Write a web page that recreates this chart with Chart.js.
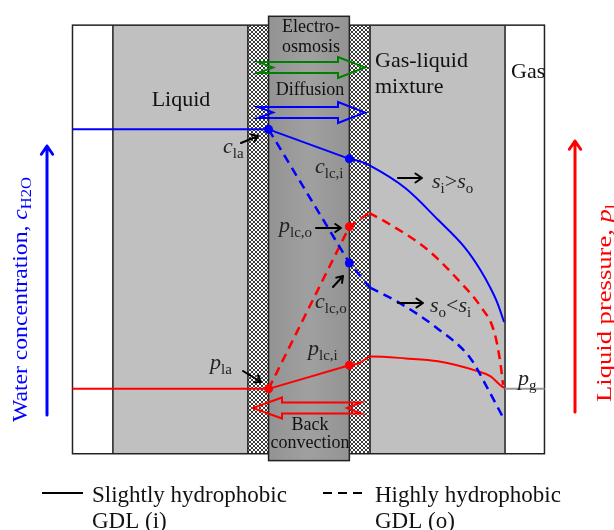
<!DOCTYPE html>
<html>
<head>
<meta charset="utf-8">
<script src="https://cdn.jsdelivr.net/npm/chart.js@4.4.1/dist/chart.umd.min.js"></script>
<style>
  html, body { margin: 0; padding: 0; background: #fff; }
  canvas { display: block; }
</style>
</head>
<body>
<canvas id="diagram" width="614" height="530"></canvas>
<script>
// layer edges across the cell (diagram units): frame, liquid, MPL, membrane, MPL, mixture, gas, frame
const layerEdges = [69, 110, 247, 268, 350, 371, 508, 548];
const frameTopBottom = [21, 457];
const membraneTopBottom = [12, 464];

// water concentration profiles
const cInlet = [[69, 127], [268, 127]];
const cSlightAnode = [[268, 127], [350, 157]];
const cSlightGdl = [[350, 157], [362, 160], [371, 164], [407, 187], [440, 219], [467, 247], [483, 270], [493, 288], [500, 303], [507, 323]];
const cHighAnode = [[268, 127], [350, 263], [371, 288]];
const cHighGdl = [[371, 288], [400, 303], [440, 330], [473, 360], [490, 390], [507, 422]];

// liquid pressure profiles
const pInlet = [[69, 391], [268, 391]];
const pSlightAnode = [[268, 391], [350, 367]];
const pSlightGdl = [[350, 367], [360, 365], [372, 358], [407, 360], [440, 363], [480, 373], [493, 378], [503, 387], [507, 390]];
const pHighAnode = [[268, 391], [350, 226], [370, 212]];
const pHighGdl = [[370, 212], [390, 223], [430, 250], [463, 283], [483, 307], [497, 333], [503, 363], [506, 387]];
const pGas = [[508, 391], [548, 391]];

// marked interface points
const cMarks = [[268, 127], [350, 157], [350, 263]];
const pMarks = [[268, 391], [350, 367], [350, 226]];

const BLUE = '#0000ff';
const RED = '#ff0000';
const SERIF = '"Liberation Serif", "Times New Roman", serif';

function line(pts, color, dashed, curved, width) {
    return {
        data: pts.map(p => ({ x: p[0], y: p[1] })),
        showLine: true,
        borderColor: color,
        borderWidth: width || (dashed ? 2.5 : 2),
        borderDash: dashed ? [9, 6] : [],
        pointRadius: 0,
        tension: 0,
        cubicInterpolationMode: curved ? 'monotone' : 'default',
        fill: false
    };
}

function marks(pts, color) {
    return {
        data: pts.map(p => ({ x: p[0], y: p[1] })),
        showLine: false,
        pointRadius: 4.5,
        pointBackgroundColor: color,
        pointBorderColor: color,
        pointBorderWidth: 0
    };
}

// small hatch tile for the micro-porous layers
function hatchPattern(ctx) {
    const t = document.createElement('canvas');
    t.width = 4; t.height = 4;
    const g = t.getContext('2d');
    g.fillStyle = '#fff';
    g.fillRect(0, 0, 4, 4);
    g.fillStyle = '#3a3a3a';
    for (let i = 0; i < 4; i++) {
        g.fillRect(i, i, 1, 1);
        g.fillRect(3 - i, i, 1, 1);
    }
    return ctx.createPattern(t, 'repeat');
}

function partFonts(parts, size) {
    return parts.map(([txt, kind]) => {
        if (kind === 's') return `${Math.round(size * 0.68)}px ${SERIF}`;
        if (kind === 'i') return `italic ${size}px ${SERIF}`;
        return `${size}px ${SERIF}`;
    });
}

function richWidth(ctx, parts, size) {
    const fonts = partFonts(parts, size);
    let w = 0;
    parts.forEach(([txt], i) => { ctx.font = fonts[i]; w += ctx.measureText(txt).width; });
    return w;
}

// text with italic symbol and subscripts: parts = [text, kind] where kind 'n','i','s'
function rich(ctx, x, y, parts, size, align) {
    const fonts = partFonts(parts, size);
    const w = richWidth(ctx, parts, size);
    let cx = align === 'center' ? x - w / 2 : x;
    ctx.textAlign = 'left';
    ctx.textBaseline = 'alphabetic';
    parts.forEach(([txt, kind], i) => {
        ctx.font = fonts[i];
        ctx.fillText(txt, cx, kind === 's' ? y + size * 0.22 : y);
        cx += ctx.measureText(txt).width;
    });
}

// vertical label reading upwards, stretched to a given length
function sideLabel(ctx, x, y, parts, size, length, color) {
    ctx.save();
    ctx.translate(x, y);
    ctx.rotate(-Math.PI / 2);
    ctx.scale(length / richWidth(ctx, parts, size), 1);
    ctx.fillStyle = color;
    rich(ctx, 0, 0, parts, size, 'left');
    ctx.restore();
}

function openArrow(ctx, x1, y1, x2, y2, color, width, head) {
    const a = Math.atan2(y2 - y1, x2 - x1);
    ctx.save();
    ctx.strokeStyle = color;
    ctx.lineWidth = width;
    ctx.lineCap = 'round';
    ctx.lineJoin = 'round';
    ctx.beginPath();
    ctx.moveTo(x1, y1);
    ctx.lineTo(x2, y2);
    ctx.moveTo(x2 - head * Math.cos(a - 0.6), y2 - head * Math.sin(a - 0.6));
    ctx.lineTo(x2, y2);
    ctx.lineTo(x2 - head * Math.cos(a + 0.6), y2 - head * Math.sin(a + 0.6));
    ctx.stroke();
    ctx.restore();
}

// outlined block arrow with notched tail
function blockArrow(ctx, tail, tip, yc, shaft, head, headLen, notch, color) {
    const d = tip > tail ? 1 : -1;
    const hb = tip - d * headLen;
    ctx.save();
    ctx.strokeStyle = color;
    ctx.lineWidth = 2;
    ctx.lineJoin = 'miter';
    ctx.beginPath();
    ctx.moveTo(tail, yc - shaft);
    ctx.lineTo(hb, yc - shaft);
    ctx.lineTo(hb, yc - head);
    ctx.lineTo(tip, yc);
    ctx.lineTo(hb, yc + head);
    ctx.lineTo(hb, yc + shaft);
    ctx.lineTo(tail, yc + shaft);
    ctx.lineTo(tail + d * notch, yc);
    ctx.closePath();
    ctx.stroke();
    ctx.restore();
}

const backdrop = {
    id: 'backdrop',
    beforeDatasetsDraw(chart) {
        const { ctx, scales: { x, y } } = chart;
        const X = v => x.getPixelForValue(v);
        const Y = v => y.getPixelForValue(v);
        const [e0, e1, e2, e3, e4, e5, e6, e7] = layerEdges.map(X);
        const ft = Y(frameTopBottom[0]), fb = Y(frameTopBottom[1]);
        const mt = Y(membraneTopBottom[0]), mb = Y(membraneTopBottom[1]);
        ctx.save();
        ctx.fillStyle = '#fff';
        ctx.fillRect(e0, ft, e7 - e0, fb - ft);
        ctx.fillStyle = '#c0c0c0';
        ctx.fillRect(e1, ft, e2 - e1, fb - ft);
        ctx.fillRect(e5, ft, e6 - e5, fb - ft);
        ctx.fillStyle = hatchPattern(ctx);
        ctx.fillRect(e2, ft, e3 - e2, fb - ft);
        ctx.fillRect(e4, ft, e5 - e4, fb - ft);
        ctx.strokeStyle = '#222';
        ctx.lineWidth = 1.5;
        ctx.strokeRect(e0, ft, e7 - e0, fb - ft);
        ctx.beginPath();
        [e1, e2, e5, e6].forEach(px => { ctx.moveTo(px, ft); ctx.lineTo(px, fb); });
        ctx.stroke();
        const grad = ctx.createLinearGradient(e3, 0, e4, 0);
        grad.addColorStop(0, '#939393');
        grad.addColorStop(0.5, '#a0a0a0');
        grad.addColorStop(1, '#939393');
        ctx.fillStyle = grad;
        ctx.fillRect(e3, mt, e4 - e3, mb - mt);
        ctx.strokeRect(e3, mt, e4 - e3, mb - mt);

        ctx.fillStyle = '#111';
        rich(ctx, 311, 32, [['Electro-', 'n']], 18, 'center');
        rich(ctx, 311, 52, [['osmosis', 'n']], 18, 'center');
        rich(ctx, 310, 95, [['Diffusion', 'n']], 18, 'center');
        rich(ctx, 310, 430, [['Back', 'n']], 18, 'center');
        rich(ctx, 310, 448, [['convection', 'n']], 18, 'center');
        rich(ctx, 181, 106, [['Liquid', 'n']], 22, 'center');
        rich(ctx, 375, 67, [['Gas-liquid', 'n']], 22, 'left');
        rich(ctx, 375, 93, [['mixture', 'n']], 22, 'left');
        rich(ctx, 511, 78, [['Gas', 'n']], 22, 'left');

        blockArrow(ctx, 258, 365, 67.5, 5.5, 10.5, 27, 15, '#008000');
        blockArrow(ctx, 258, 365, 112.5, 5.5, 10.5, 27, 15, BLUE);
        blockArrow(ctx, 361, 253, 408, 5.5, 10.5, 29, 14, RED);
        ctx.restore();
    },
    afterDatasetsDraw(chart) {
        const { ctx } = chart;
        ctx.save();
        ctx.fillStyle = '#222';
        rich(ctx, 223, 153, [['c', 'i'], ['la', 's']], 22, 'left');
        openArrow(ctx, 241, 143, 258, 136, '#000', 2, 7);
        rich(ctx, 315, 173, [['c', 'i'], ['lc,i', 's']], 22, 'left');
        rich(ctx, 279, 232, [['p', 'i'], ['lc,o', 's']], 22, 'left');
        openArrow(ctx, 316, 228, 341, 228, '#000', 2, 7);
        rich(ctx, 315, 308, [['c', 'i'], ['lc,o', 's']], 22, 'left');
        openArrow(ctx, 333, 287, 343, 276, '#000', 2, 7);
        rich(ctx, 308, 355, [['p', 'i'], ['lc,i', 's']], 22, 'left');
        rich(ctx, 210, 369, [['p', 'i'], ['la', 's']], 22, 'left');
        openArrow(ctx, 243, 371, 261, 382, '#000', 2, 7);
        rich(ctx, 518, 385, [['p', 'i'], ['g', 's']], 22, 'left');

        openArrow(ctx, 398, 178, 422, 178, '#000', 2, 8);
        rich(ctx, 432, 188, [['s', 'i'], ['i', 's'], ['>', 'n'], ['s', 'i'], ['o', 's']], 22, 'left');
        openArrow(ctx, 398, 303, 423, 303, '#000', 2, 8);
        rich(ctx, 430, 312, [['s', 'i'], ['o', 's'], ['<', 'n'], ['s', 'i'], ['i', 's']], 22, 'left');

        // side axes
        openArrow(ctx, 47, 415, 47, 146, BLUE, 3, 10);
        openArrow(ctx, 575, 412, 575, 141, RED, 3, 10);
        sideLabel(ctx, 27, 422, [['Water concentration, ', 'n'], ['c', 'i'], ['H2O', 's']], 20, 245, BLUE);
        sideLabel(ctx, 611, 402, [['Liquid pressure, ', 'n'], ['p', 'i'], ['l', 's']], 20, 198, RED);

        // legend
        ctx.strokeStyle = '#000';
        ctx.lineWidth = 2;
        ctx.beginPath();
        ctx.moveTo(42, 493); ctx.lineTo(83, 493);
        ctx.stroke();
        ctx.setLineDash([9, 6]);
        ctx.beginPath();
        ctx.moveTo(323, 493); ctx.lineTo(365, 493);
        ctx.stroke();
        ctx.setLineDash([]);
        ctx.fillStyle = '#111';
        rich(ctx, 92, 502, [['Slightly hydrophobic', 'n']], 23, 'left');
        rich(ctx, 92, 528, [['GDL (i)', 'n']], 23, 'left');
        rich(ctx, 375, 502, [['Highly hydrophobic', 'n']], 23, 'left');
        rich(ctx, 375, 528, [['GDL (o)', 'n']], 23, 'left');
        ctx.restore();
    }
};

new Chart(document.getElementById('diagram'), {
    type: 'scatter',
    data: {
        datasets: [
            line(cInlet, BLUE, false, false),
            line(cSlightAnode, BLUE, false, false),
            line(cSlightGdl, BLUE, false, true),
            line(cHighAnode, BLUE, true, false),
            line(cHighGdl, BLUE, true, true),
            line(pInlet, RED, false, false),
            line(pSlightAnode, RED, false, false),
            line(pSlightGdl, RED, false, true),
            line(pHighAnode, RED, true, false),
            line(pHighGdl, RED, true, true),
            line(pGas, '#999', false, false, 2),
            marks(cMarks, BLUE),
            marks(pMarks, RED)
        ]
    },
    options: {
        responsive: false,
        animation: false,
        devicePixelRatio: 1,
        layout: { padding: 0 },
        scales: {
            x: { type: 'linear', min: 0, max: 614, display: false },
            y: { type: 'linear', min: 0, max: 530, reverse: true, display: false }
        },
        plugins: {
            legend: { display: false },
            tooltip: { enabled: false }
        },
        events: []
    },
    plugins: [backdrop]
});
</script>
</body>
</html>
